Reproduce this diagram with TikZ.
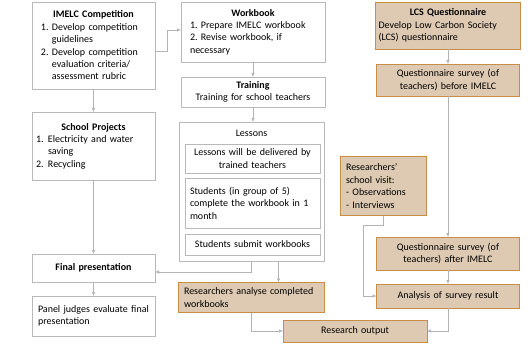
\documentclass[tikz,border=0pt]{standalone}
\usepackage{fontspec}
\setmainfont{Carlito}
\usetikzlibrary{arrows.meta}
\definecolor{tanfill}{RGB}{222,202,178}
\definecolor{tanline}{RGB}{200,142,72}
\definecolor{boxline}{RGB}{185,185,185}
\definecolor{linkgray}{RGB}{180,180,180}
\tikzset{
  wbox/.style={draw=boxline,fill=white,inner ysep=2pt,inner xsep=9pt,outer sep=0pt},
  tbox/.style={draw=tanline,line width=0.9pt,fill=tanfill,inner ysep=2pt,inner xsep=9pt,outer sep=0pt},
  conn/.style={draw=linkgray,line width=0.6pt,-{Latex[length=4pt,width=3.5pt]}}
}
\newcommand{\hd}[1]{\makebox[\hsize]{\textbf{#1}}}
\hyphenpenalty=10000
\begin{document}
\begin{tikzpicture}[x=1pt,y=-1pt,font=\fontsize{10}{12.4}\selectfont]
\useasboundingbox (0,0) rectangle (528,345);
\node[wbox,text width=105pt,minimum height=87pt,align=left] (imelc) at (93.5,45.5)
  {\hd{IMELC Competition}\\1.~Develop competition\\\phantom{1.~}guidelines\\2.~Develop competition\\\phantom{2.~}evaluation criteria/\\\phantom{2.~}assessment rubric};
\node[wbox,inner xsep=4pt,text width=115pt,minimum height=68pt,align=left] (school) at (93.5,146)
  {\hd{School Projects}\\\makebox[12pt][l]{1.}Electricity and water\\\hspace*{12pt}saving\\\makebox[12pt][l]{2.}Recycling};
\node[wbox,text width=105pt,minimum height=28pt,align=center] (final) at (93.5,268) {\textbf{Final presentation}};
\node[wbox,inner xsep=6pt,text width=111pt,minimum height=40pt,align=left] (panel) at (93.5,316) {Panel judges evaluate final\\presentation};
\node[wbox,text width=126pt,minimum height=60pt,align=left] (workbook) at (253,32)
  {\hd{Workbook}\\1.~Prepare IMELC workbook\\2.~Revise workbook, if\\necessary};
\node[wbox,text width=126pt,minimum height=30pt,align=center] (training) at (253,92)
  {\textbf{Training}\\Training for school teachers};
\node[wbox,minimum width=145pt,minimum height=139pt] (lessons) at (251.5,191.5) {};
\node (lessonstitle) at (251.5,133) {Lessons};
\node[wbox,inner xsep=5pt,text width=125pt,minimum height=29pt,align=center] (deliver) at (252.5,158.5)
  {Lessons will be delivered by\\trained teachers};
\node[wbox,inner xsep=5pt,text width=125pt,minimum height=50pt,align=left] (complete) at (252.5,203)
  {Students (in group of 5)\\complete the workbook in 1\\month};
\node[wbox,inner xsep=5pt,text width=125pt,minimum height=21pt,align=center] (submit) at (252.5,244.5)
  {Students submit workbooks};
\node[tbox,inner xsep=6pt,text width=134pt,minimum height=30pt,align=left] (analyse) at (251,297.5)
  {Researchers analyse completed\\workbooks};
\node[tbox,text width=126pt,minimum height=22pt,align=center] (output) at (355,331) {Research output};
\node[tbox,inner xsep=3pt,text width=139pt,minimum height=47pt,align=left] (lcs) at (448,25.5)
  {\hd{LCS Questionnaire}\\Develop Low Carbon Society\\(LCS) questionnaire};
\node[tbox,text width=125pt,minimum height=32pt,align=center] (before) at (448,80)
  {Questionnaire survey (of\\teachers) before IMELC};
\node[tbox,inner xsep=6pt,text width=74pt,minimum height=59pt,align=left] (visit) at (383,186)
  {Researchers’\\school visit:\\- Observations\\- Interviews};
\node[tbox,text width=125pt,minimum height=33pt,align=center] (after) at (448,253.5)
  {Questionnaire survey (of\\teachers) after IMELC};
\node[tbox,text width=125pt,minimum height=24pt,align=center] (analysis) at (448,296) {Analysis of survey result};
\draw[conn] ([yshift=-6pt]imelc.east) -- ++(12,0) |- ([yshift=2pt]workbook.west);
\draw[conn] (imelc) -- (school);
\draw[conn] (school) -- (final);
\draw[conn] (final) -- (panel);
\draw[conn] (workbook) -- (training);
\draw[conn] (training.south) -- (lessons.north -| training.south);
\draw[conn] (lessons.south) |- ([yshift=-4pt]final.east);
\draw[conn] ([xshift=27pt]lessons.south) -- ([xshift=27pt]lessons.south |- analyse.north);
\draw[conn] (analyse.south) |- (output.west);
\draw[conn] (lcs) -- (before);
\draw[conn] (before) -- (after);
\draw[conn] (after) -- (analysis);
\draw[conn] (visit.south) -- ++(0,10) -- ++(-20,0) |- (analysis.west);
\draw[conn] (analysis.south) |- (output.east);
\end{tikzpicture}
\end{document}
